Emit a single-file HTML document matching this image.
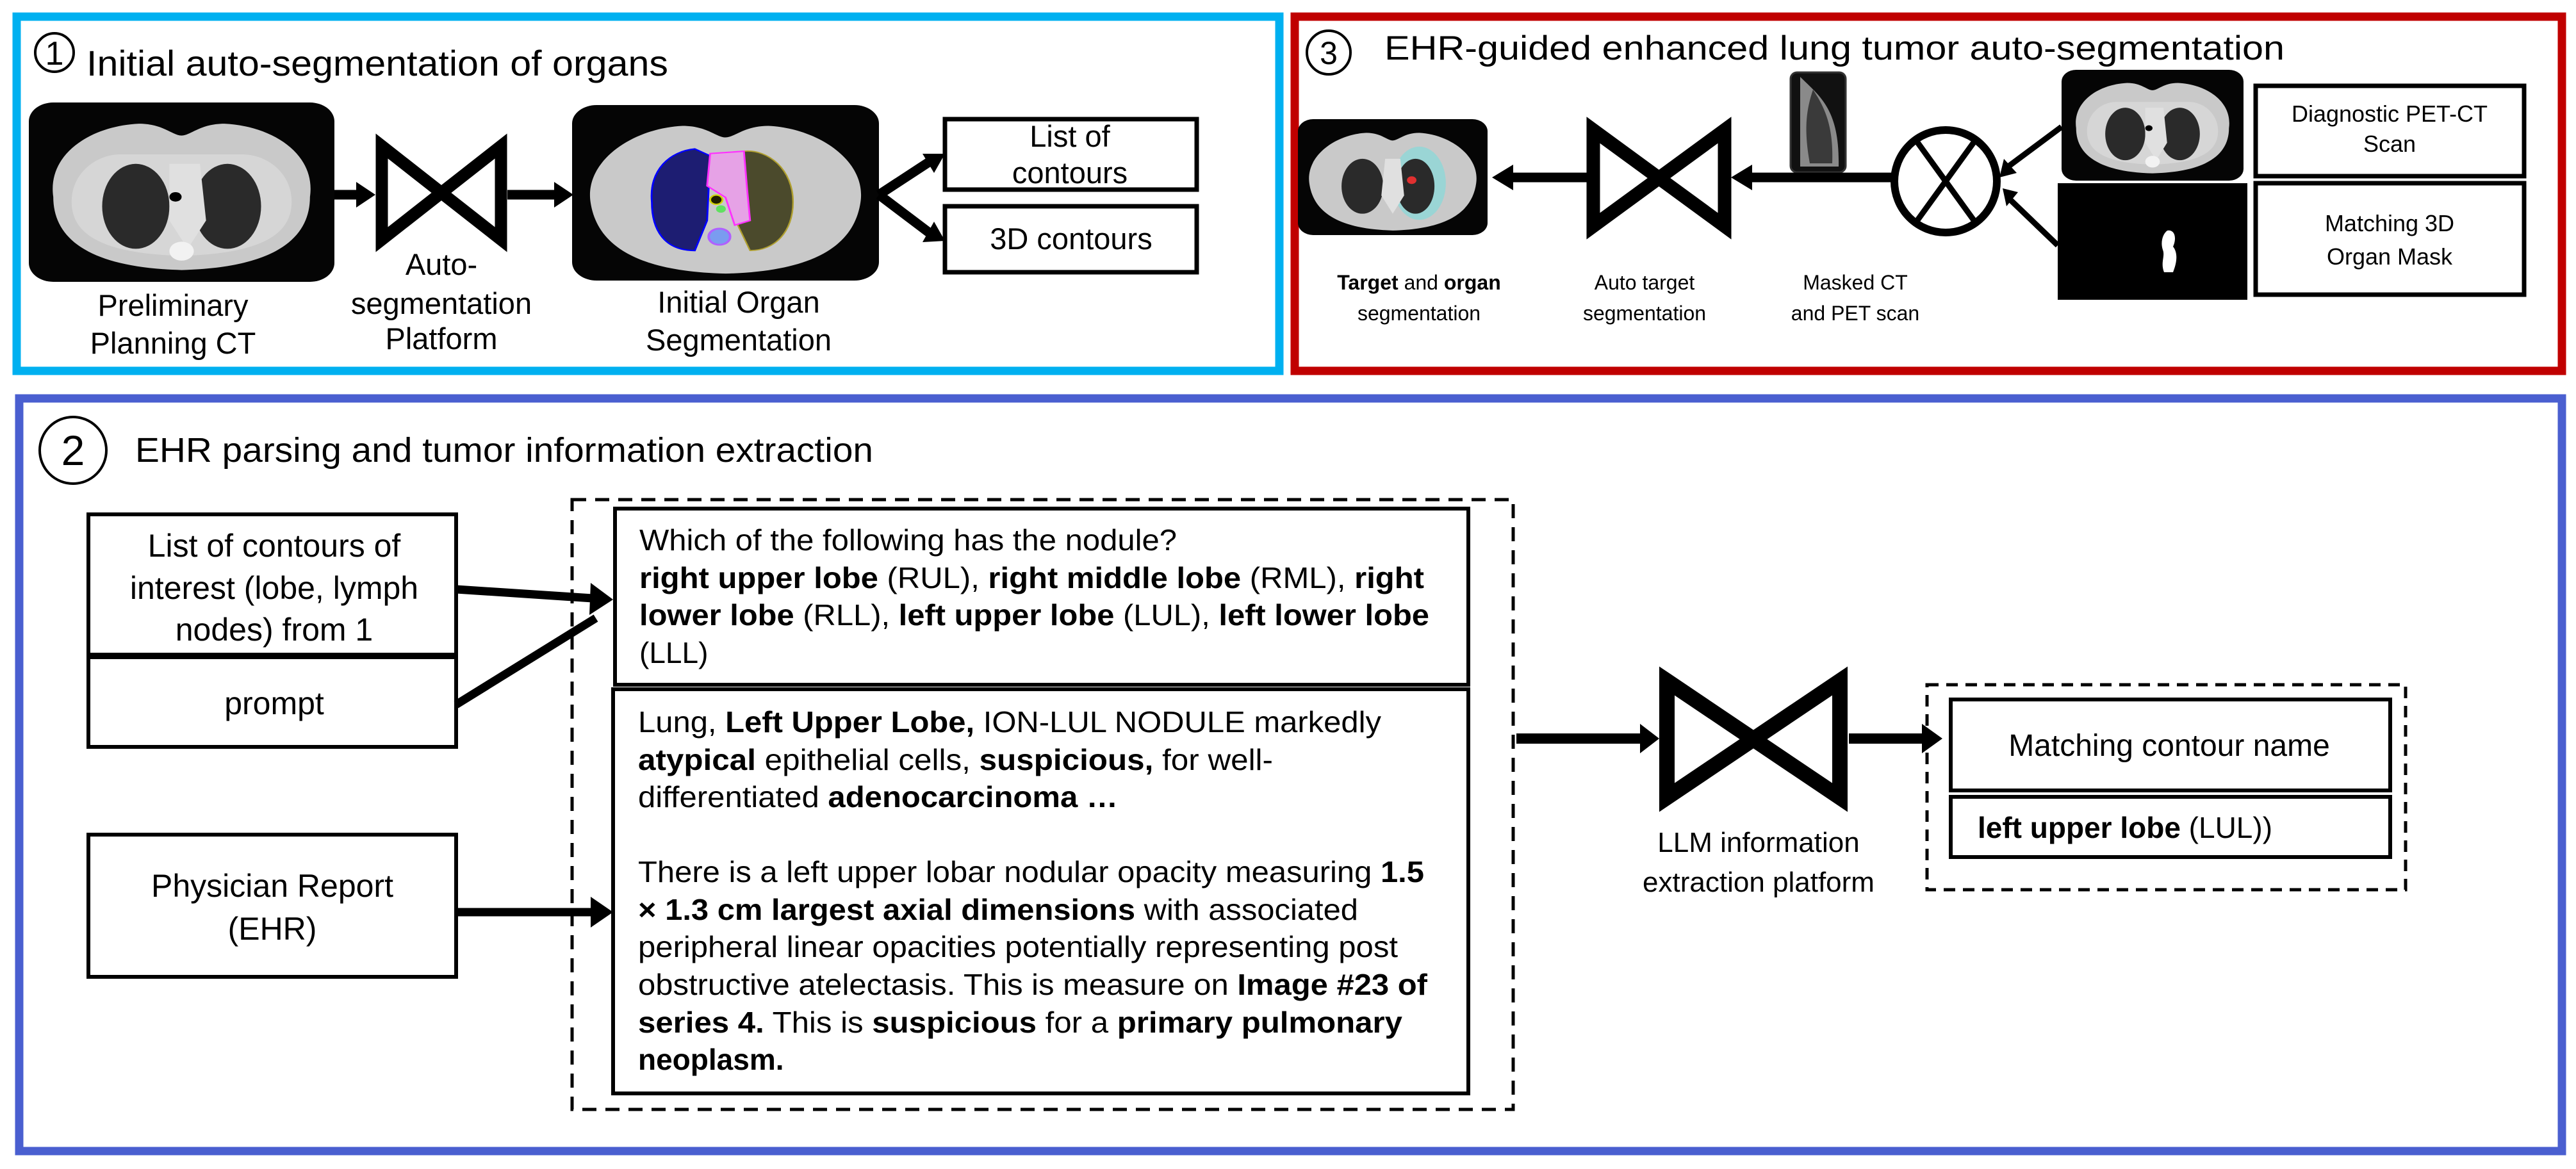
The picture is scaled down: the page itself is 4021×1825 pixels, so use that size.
<!DOCTYPE html>
<html><head><meta charset="utf-8"><style>
html,body{margin:0;padding:0;background:#fff}
svg{display:block}
text{font-family:"Liberation Sans Narrow","Liberation Sans",Arial,sans-serif;fill:#000}
.b{font-weight:bold}
</style></head><body>
<svg width="4021" height="1825" viewBox="0 0 4021 1825" xmlns="http://www.w3.org/2000/svg">
<defs>
<symbol id="ct" viewBox="0 0 100 76" preserveAspectRatio="none">
<rect x="0" y="0" width="100" height="76" rx="8" fill="#050505"/>
<path d="M8,40 C6,22 20,10 36,9 C44,9 47,14 50,14 C53,14 56,9 64,9 C80,10 94,22 92,40 C92,58 80,70 50,71 C20,70 8,58 8,40Z" fill="#c9c9c9"/>
<path d="M14,42 C14,30 22,22 30,22 L70,22 C78,22 86,30 86,42 C86,56 76,64 50,65 C24,64 14,56 14,42Z" fill="#d6d6d6"/>
<ellipse cx="35" cy="44" rx="11" ry="18" fill="#2a2a2a"/>
<ellipse cx="65" cy="44" rx="11" ry="18" fill="#2a2a2a"/>
<path d="M46,26 L56,26 L58,50 L52,62 L46,50Z" fill="#e0e0e0"/>
<circle cx="50" cy="63" r="4" fill="#f2f2f2"/>
<circle cx="48" cy="40" r="2" fill="#000"/>
</symbol>
<symbol id="seg" viewBox="0 0 100 76" preserveAspectRatio="none">
<rect x="0" y="0" width="100" height="76" rx="8" fill="#050505"/>
<path d="M6,42 C4,24 20,10 36,9 C44,9 47,14 50,14 C53,14 56,9 64,9 C80,10 96,24 94,42 C92,60 80,72 50,73 C20,72 8,60 6,42Z" fill="#c9c9c9"/>
<path d="M26,42 C25,28 32,20 40,19 L45,22 L44,50 L40,63 C30,63 26,54 26,42Z" fill="#1d1d72" stroke="#0000ff" stroke-width="0.6"/>
<path d="M56,20 C64,19 72,28 72,42 C72,55 66,63 58,63 L54,52 L56,35Z" fill="#4b4a2c" stroke="#b0a030" stroke-width="0.5"/>
<path d="M45,21 L56,20 L57,36 L58,50 L53,52 L50,40 L44,35Z" fill="#e6a2e6" stroke="#ff30ff" stroke-width="0.6"/>
<circle cx="47" cy="41" r="2" fill="#202000" stroke="#d0d000" stroke-width="0.6"/>
<circle cx="48.5" cy="45" r="1.6" fill="#60e060"/>
<circle cx="48" cy="57" r="3.5" fill="#7a9cf0" stroke="#b060ff" stroke-width="0.8"/>
</symbol>
<symbol id="res" viewBox="0 0 100 76" preserveAspectRatio="none">
<rect x="0" y="0" width="100" height="76" rx="8" fill="#050505"/>
<path d="M6,42 C4,24 20,10 36,9 C44,9 47,14 50,14 C53,14 56,9 64,9 C80,10 96,24 94,42 C92,60 80,72 50,73 C20,72 8,60 6,42Z" fill="#c9c9c9"/>
<ellipse cx="34" cy="44" rx="11" ry="18" fill="#2a2a2a"/>
<ellipse cx="64" cy="42" rx="14" ry="24" fill="#8fd8d8" opacity="0.8"/>
<ellipse cx="62" cy="44" rx="10" ry="18" fill="#2a2a2a"/>
<path d="M46,26 L54,26 L56,50 L50,62 L44,50Z" fill="#e0e0e0"/>
<circle cx="60" cy="40" r="2.5" fill="#e03030"/>
</symbol>
</defs>

<!-- Panel borders -->
<rect x="26" y="26" width="1971" height="553" fill="none" stroke="#00b0f0" stroke-width="13"/>
<rect x="2021" y="26" width="1978" height="553" fill="none" stroke="#c00000" stroke-width="13"/>
<rect x="30" y="622" width="3969" height="1175" fill="none" stroke="#4a5fd0" stroke-width="13"/>

<!-- Panel 1 -->
<circle cx="85" cy="82" r="30" fill="none" stroke="#000" stroke-width="4"/>
<text x="85" y="101" font-size="52" text-anchor="middle">1</text>
<text x="135" y="118" font-size="56" textLength="908" lengthAdjust="spacingAndGlyphs">Initial auto-segmentation of organs</text>

<use href="#ct" x="45" y="160" width="477" height="280"/>
<use href="#seg" x="893" y="164" width="479" height="274"/>

<g stroke="#000" stroke-width="15" fill="none">
<line x1="522" y1="304" x2="562" y2="304"/>
<line x1="792" y1="304" x2="870" y2="304"/>
<line x1="1372" y1="304" x2="1450" y2="253"/>
<line x1="1372" y1="304" x2="1450" y2="363"/>
<path d="M596,228 L782,374 L782,228 L596,374 Z" stroke-width="19" stroke-linejoin="miter"/>
</g>
<g fill="#000">
<polygon points="586,304 556,284 556,324"/>
<polygon points="895,304 865,284 865,324"/>
<polygon points="1475,240 1440,240 1458,270"/>
<polygon points="1475,376 1458,346 1440,378"/>
</g>
<rect x="1475" y="186" width="393" height="110" fill="#fff" stroke="#000" stroke-width="7"/>
<rect x="1475" y="322" width="393" height="103" fill="#fff" stroke="#000" stroke-width="7"/>
<g font-size="47" text-anchor="middle">
<text x="1670" y="229">List of</text>
<text x="1670" y="286">contours</text>
<text x="1672" y="389">3D contours</text>
<text x="270" y="493">Preliminary</text>
<text x="270" y="552">Planning CT</text>
<text x="689" y="429">Auto-</text>
<text x="689" y="490">segmentation</text>
<text x="689" y="545">Platform</text>
<text x="1153" y="488">Initial Organ</text>
<text x="1153" y="547">Segmentation</text>
</g>

<!-- Panel 3 -->
<circle cx="2074" cy="82" r="34" fill="none" stroke="#000" stroke-width="4"/>
<text x="2074" y="100" font-size="50" text-anchor="middle">3</text>
<text x="2161" y="93" font-size="53" textLength="1405" lengthAdjust="spacingAndGlyphs">EHR-guided enhanced lung tumor auto-segmentation</text>

<use href="#res" x="2026" y="186" width="296" height="181"/>
<rect x="2795" y="113" width="86" height="156" rx="10" fill="#111" stroke="#333" stroke-width="3"/>
<path d="M2810,120 C2840,150 2872,170 2870,260 L2810,260Z" fill="#8a8a8a"/>
<path d="M2830,140 C2850,170 2862,200 2860,255 L2825,255 C2815,200 2820,170 2830,140Z" fill="#3a3a3a"/>
<use href="#ct" x="3218" y="109" width="284" height="173"/>
<rect x="3212" y="286" width="296" height="182" fill="#000"/>
<path d="M3383,360 C3395,358 3398,372 3392,385 C3400,395 3398,410 3392,425 L3378,425 C3372,410 3380,400 3376,390 C3372,378 3376,365 3383,360Z" fill="#fff"/>

<g stroke="#000" fill="none">
<path d="M2487,203 L2692,353 L2692,203 L2487,353 Z" stroke-width="21"/>
<line x1="2355" y1="277" x2="2477" y2="277" stroke-width="15"/>
<line x1="2730" y1="277" x2="2954" y2="277" stroke-width="15"/>
<circle cx="3037" cy="283" r="80" stroke-width="12"/>
<line x1="2990" y1="218" x2="3084" y2="348" stroke-width="9"/>
<line x1="3084" y1="218" x2="2990" y2="348" stroke-width="9"/>
<line x1="3218" y1="198" x2="3132" y2="262" stroke-width="9"/>
<line x1="3212" y1="383" x2="3136" y2="310" stroke-width="9"/>
</g>
<g fill="#000">
<polygon points="2329,277 2362,257 2362,297"/>
<polygon points="2702,277 2735,257 2735,297"/>
<polygon points="3121,277 3128,248 3148,270"/>
<polygon points="3126,294 3150,300 3132,322"/>
</g>
<rect x="3521" y="134" width="419" height="141" fill="#fff" stroke="#000" stroke-width="7"/>
<rect x="3521" y="286" width="419" height="174" fill="#fff" stroke="#000" stroke-width="7"/>
<g font-size="36" text-anchor="middle">
<text x="3730" y="190">Diagnostic PET-CT</text>
<text x="3730" y="237">Scan</text>
<text x="3730" y="361">Matching 3D</text>
<text x="3730" y="413">Organ Mask</text>
</g>
<g font-size="32" text-anchor="middle">
<text x="2215" y="452"><tspan class="b">Target</tspan> and <tspan class="b">organ</tspan></text>
<text x="2215" y="500">segmentation</text>
<text x="2567" y="452">Auto target</text>
<text x="2567" y="500">segmentation</text>
<text x="2896" y="452">Masked CT</text>
<text x="2896" y="500">and PET scan</text>
</g>

<!-- Panel 2 -->
<circle cx="114" cy="703" r="52" fill="none" stroke="#000" stroke-width="4"/>
<text x="114" y="726" font-size="66" text-anchor="middle">2</text>
<text x="211" y="721" font-size="54" textLength="1152" lengthAdjust="spacingAndGlyphs">EHR parsing and tumor information extraction</text>

<rect x="138" y="803" width="574" height="219" fill="#fff" stroke="#000" stroke-width="6"/>
<rect x="138" y="1026" width="574" height="140" fill="#fff" stroke="#000" stroke-width="6"/>
<rect x="138" y="1303" width="574" height="222" fill="#fff" stroke="#000" stroke-width="6"/>
<g font-size="50" text-anchor="middle">
<text x="428" y="869">List of contours of</text>
<text x="428" y="935">interest (lobe, lymph</text>
<text x="428" y="1000">nodes) from 1</text>
<text x="428" y="1115">prompt</text>
<text x="425" y="1400">Physician Report</text>
<text x="425" y="1467">(EHR)</text>
</g>

<rect x="893" y="780" width="1469" height="952" fill="none" stroke="#000" stroke-width="5" stroke-dasharray="22,14"/>
<rect x="960" y="794" width="1332" height="275" fill="#fff" stroke="#000" stroke-width="6"/>
<rect x="957" y="1076" width="1335" height="631" fill="#fff" stroke="#000" stroke-width="6"/>

<g stroke="#000" stroke-width="13" fill="none">
<line x1="712" y1="920" x2="925" y2="934"/>
<line x1="712" y1="1100" x2="930" y2="965"/>
<line x1="712" y1="1424" x2="925" y2="1424"/>
<line x1="2367" y1="1153" x2="2560" y2="1153" stroke-width="16"/>
<line x1="2886" y1="1153" x2="3005" y2="1153" stroke-width="16"/>
<path d="M2602,1063 L2872,1245 L2872,1063 L2602,1245 Z" stroke-width="24"/>
</g>
<g fill="#000">
<polygon points="957,936 922,910 920,960"/>
<polygon points="957,1424 922,1400 922,1448"/>
<polygon points="2590,1153 2560,1130 2560,1176"/>
<polygon points="3032,1153 3000,1130 3000,1176"/>
</g>

<g font-size="46">
<text x="998" y="859" textLength="839" lengthAdjust="spacingAndGlyphs">Which of the following has the nodule?</text>
<text x="998" y="918" textLength="1225" lengthAdjust="spacingAndGlyphs"><tspan class="b">right upper lobe</tspan> (RUL), <tspan class="b">right middle lobe</tspan> (RML), <tspan class="b">right</tspan></text>
<text x="998" y="976" textLength="1233" lengthAdjust="spacingAndGlyphs"><tspan class="b">lower lobe</tspan> (RLL), <tspan class="b">left upper lobe</tspan> (LUL), <tspan class="b">left lower lobe</tspan></text>
<text x="998" y="1035">(LLL)</text>

<text x="996" y="1143" textLength="1160" lengthAdjust="spacingAndGlyphs">Lung, <tspan class="b">Left Upper Lobe,</tspan> ION-LUL NODULE markedly</text>
<text x="996" y="1202" textLength="991" lengthAdjust="spacingAndGlyphs"><tspan class="b">atypical</tspan> epithelial cells, <tspan class="b">suspicious,</tspan>  for well-</text>
<text x="996" y="1260" textLength="749" lengthAdjust="spacingAndGlyphs">differentiated <tspan class="b">adenocarcinoma …</tspan></text>
<text x="996" y="1377" textLength="1227" lengthAdjust="spacingAndGlyphs">There is a left upper lobar nodular opacity measuring <tspan class="b">1.5</tspan></text>
<text x="996" y="1436" textLength="1124" lengthAdjust="spacingAndGlyphs"><tspan class="b">× 1.3 cm largest axial dimensions</tspan> with associated</text>
<text x="996" y="1494" textLength="1186" lengthAdjust="spacingAndGlyphs">peripheral linear opacities potentially representing post</text>
<text x="996" y="1553" textLength="1232" lengthAdjust="spacingAndGlyphs">obstructive atelectasis. This is measure on <tspan class="b">Image #23 of</tspan></text>
<text x="996" y="1612" textLength="1193" lengthAdjust="spacingAndGlyphs"><tspan class="b">series 4.</tspan> This is <tspan class="b">suspicious</tspan> for a <tspan class="b">primary pulmonary</tspan></text>
<text x="996" y="1670" class="b">neoplasm.</text>
</g>

<g font-size="44" text-anchor="middle">
<text x="2745" y="1330">LLM information</text>
<text x="2745" y="1392">extraction platform</text>
</g>

<rect x="3008" y="1069" width="747" height="320" fill="none" stroke="#000" stroke-width="5" stroke-dasharray="18,12"/>
<rect x="3045" y="1092" width="686" height="142" fill="#fff" stroke="#000" stroke-width="6"/>
<rect x="3045" y="1244" width="686" height="94" fill="#fff" stroke="#000" stroke-width="6"/>
<text x="3386" y="1180" font-size="48" text-anchor="middle">Matching contour name</text>
<text x="3087" y="1308" font-size="46"><tspan class="b">left upper lobe</tspan> (LUL))</text>
</svg>
</body></html>
